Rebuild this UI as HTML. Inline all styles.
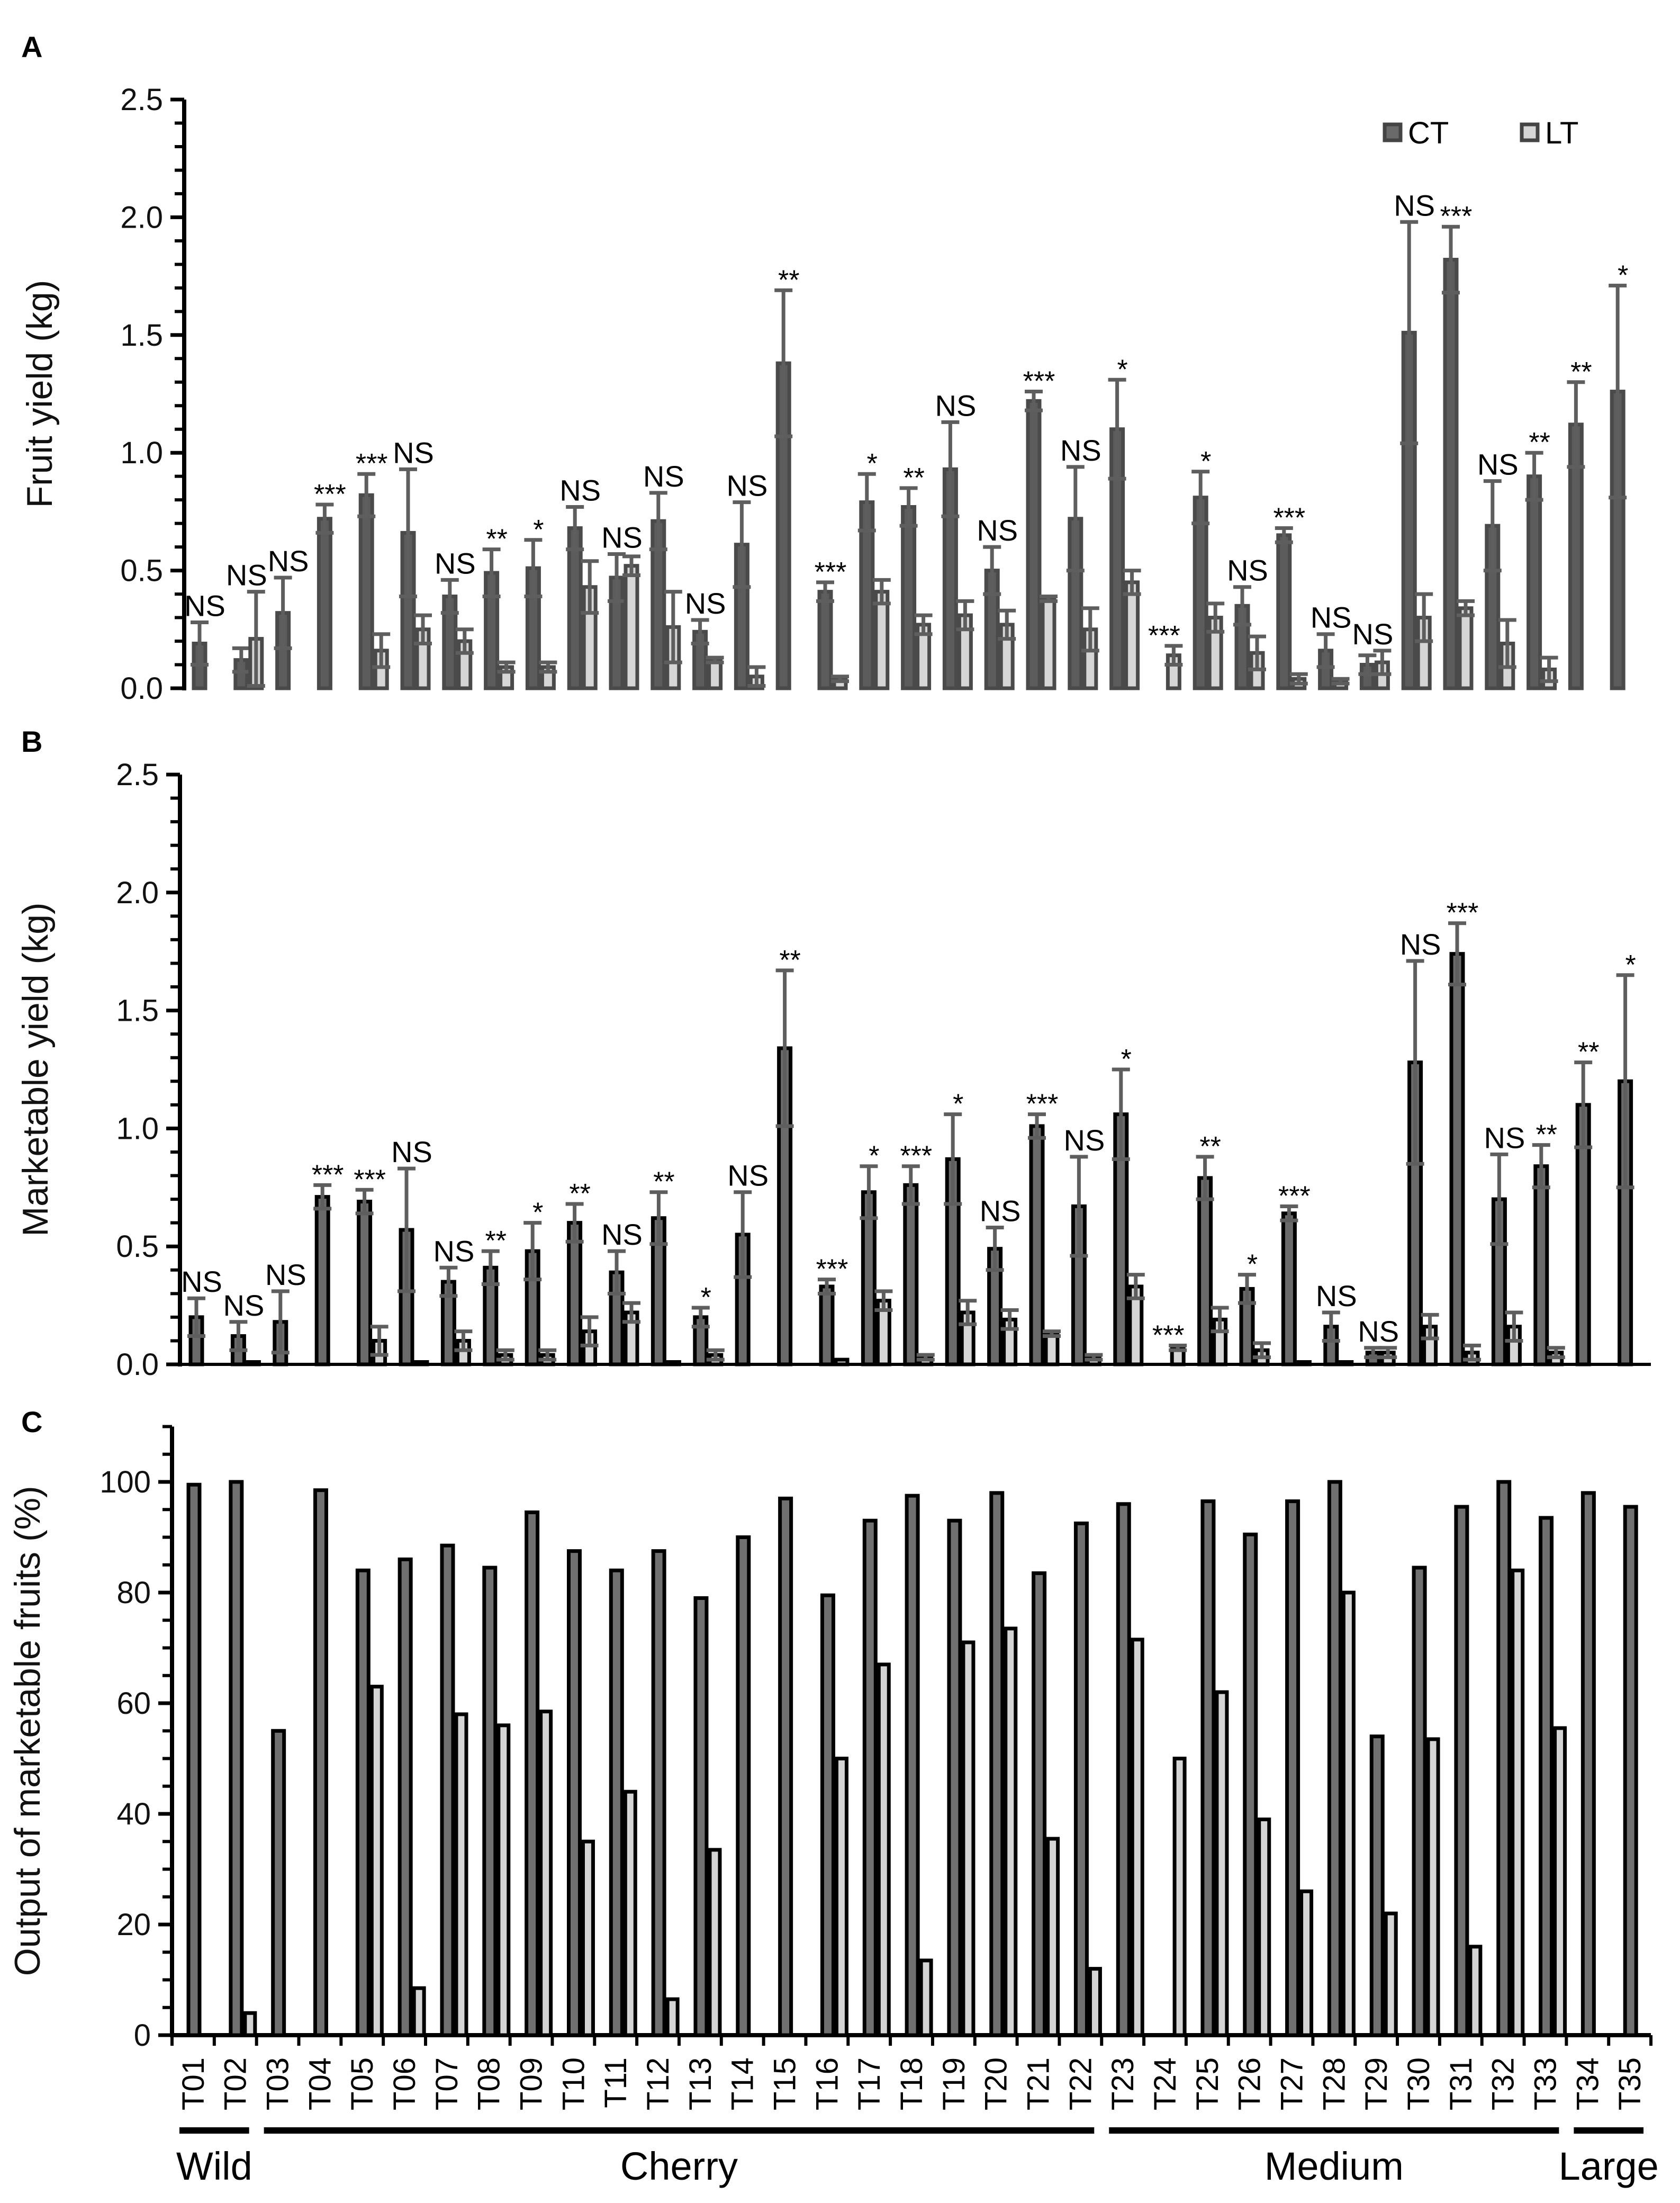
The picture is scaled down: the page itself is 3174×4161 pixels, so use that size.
<!DOCTYPE html>
<html><head><meta charset="utf-8"><style>
html,body{margin:0;padding:0;background:#fff;}
svg{display:block;font-family:"Liberation Sans",Arial,sans-serif;}
</style></head><body>
<svg id="chart" width="3174" height="4161" viewBox="0 0 3174 4161" xmlns="http://www.w3.org/2000/svg">
<rect width="3174" height="4161" fill="#fff"/>
</svg>
<script>
const categories = ["T01","T02","T03","T04","T05","T06","T07","T08","T09","T10","T11","T12","T13","T14","T15","T16","T17","T18","T19","T20","T21","T22","T23","T24","T25","T26","T27","T28","T29","T30","T31","T32","T33","T34","T35"];
const fruitCT = [0.19,0.12,0.32,0.72,0.82,0.66,0.39,0.49,0.51,0.68,0.47,0.71,0.24,0.61,1.38,0.41,0.79,0.77,0.93,0.50,1.22,0.72,1.10,0,0.81,0.35,0.65,0.16,0.10,1.51,1.82,0.69,0.90,1.12,1.26];
const fruitCTsd = [0.09,0.05,0.15,0.06,0.09,0.27,0.07,0.10,0.12,0.09,0.10,0.12,0.05,0.18,0.31,0.04,0.12,0.08,0.20,0.10,0.04,0.22,0.21,0,0.11,0.08,0.03,0.07,0.04,0.47,0.14,0.19,0.10,0.18,0.45];
const fruitLT = [0,0.21,0,0,0.16,0.25,0.20,0.09,0.09,0.43,0.52,0.26,0.12,0.05,0,0.04,0.41,0.27,0.31,0.27,0.38,0.25,0.45,0.14,0.30,0.15,0.04,0.03,0.11,0.30,0.34,0.19,0.08,0,0];
const fruitLTsd = [0,0.20,0,0,0.07,0.06,0.05,0.02,0.02,0.11,0.04,0.15,0.01,0.04,0,0.01,0.05,0.04,0.06,0.06,0.01,0.09,0.05,0.04,0.06,0.07,0.02,0.01,0.05,0.10,0.03,0.10,0.05,0,0];
const fruitSig = ["NS","NS","NS","***","***","NS","NS","**","*","NS","NS","NS","NS","NS","**","***","*","**","NS","NS","***","NS","*","***","*","NS","***","NS","NS","NS","***","NS","**","**","*"];
const mktCT = [0.20,0.12,0.18,0.71,0.69,0.57,0.35,0.41,0.48,0.60,0.39,0.62,0.20,0.55,1.34,0.33,0.73,0.76,0.87,0.49,1.01,0.67,1.06,0,0.79,0.32,0.64,0.16,0.05,1.28,1.74,0.70,0.84,1.10,1.20];
const mktCTsd = [0.08,0.06,0.13,0.05,0.05,0.26,0.06,0.07,0.12,0.08,0.09,0.11,0.04,0.18,0.33,0.03,0.11,0.08,0.19,0.09,0.05,0.21,0.19,0,0.09,0.06,0.03,0.06,0.02,0.43,0.13,0.19,0.09,0.18,0.45];
const mktLT = [0,0.01,0,0,0.10,0.01,0.10,0.04,0.04,0.14,0.22,0.01,0.04,0,0,0.02,0.27,0.03,0.22,0.19,0.13,0.03,0.33,0.07,0.19,0.06,0.01,0.01,0.05,0.16,0.05,0.16,0.05,0,0];
const mktLTsd = [0,0,0,0,0.06,0,0.04,0.02,0.02,0.06,0.04,0,0.02,0,0,0,0.04,0.01,0.05,0.04,0.01,0.01,0.05,0.01,0.05,0.03,0,0,0.02,0.05,0.03,0.06,0.02,0,0];
const mktSig = ["NS","NS","NS","***","***","NS","NS","**","*","**","NS","**","*","NS","**","***","*","***","*","NS","***","NS","*","***","**","*","***","NS","NS","NS","***","NS","**","**","*"];
const pctCT = [99.5,100,55,98.5,84,86,88.5,84.5,94.5,87.5,84,87.5,79,90,97,79.5,93,97.5,93,98,83.5,92.5,96,0,96.5,90.5,96.5,100,54,84.5,95.5,100,93.5,98,95.5];
const pctLT = [0,4,0,0,63,8.5,58,56,58.5,35,44,6.5,33.5,0,0,50,67,13.5,71,73.5,35.5,12,71.5,50,62,39,26,80,22,53.5,16,84,55.5,0,0];
const kgTicks = ["0.0","0.5","1.0","1.5","2.0","2.5"];
const pctTicks = ["0","20","40","60","80","100"];
const groups = ["Wild","Cherry","Medium","Large"];
const groupFirst = [0,2,22,33];
const groupLast = [1,21,32,34];

const NS = "http://www.w3.org/2000/svg";
const svg = document.getElementById("chart");
function el(tag, attrs, parent){
  const e = document.createElementNS(NS, tag);
  for (const k in attrs) e.setAttribute(k, attrs[k]);
  (parent||svg).appendChild(e);
  return e;
}

function panelLetter(t, x, y){
  const e = el("text",{x:x,y:y,"font-size":56,"font-weight":"bold",fill:"#000"});
  e.textContent = t;
  
  
}

function yAxis(ax, y0, yTop, vmax, ticks, tickStep, minorStep, title, key){
  const g = el("g",{});
  
  
  const sy = v => y0 - (v / vmax) * (y0 - yTop);
  el("line",{x1:ax,y1:yTop,x2:ax,y2:y0+4,stroke:"#000","stroke-width":8},g);
  const nMinor = Math.round(vmax / minorStep);
  for (let i=0;i<=nMinor;i++){
    const y = sy(i*minorStep);
    el("line",{x1:ax-18,y1:y,x2:ax,y2:y,stroke:"#000","stroke-width":6},g);
  }
  ticks.forEach((t,i)=>{
    const y = sy(i*tickStep);
    el("line",{x1:ax-26,y1:y,x2:ax,y2:y,stroke:"#000","stroke-width":7},g);
    const tx = el("text",{x:ax-40,y:y+20,"font-size":58,"text-anchor":"end",fill:"#111"},g);
    tx.textContent = t;
    
    
  });
  const midY = (y0 + yTop)/2;
  const tt = el("text",{x:0,y:0,"font-size":68,"text-anchor":"middle",fill:"#111",transform:`translate(${ax-250},${midY}) rotate(-90)`},g);
  tt.textContent = title;
  
  
  return sy;
}

function errPanel(key, ax, y0, yTop, catStart, catW, ctOff, barW, ct, ctsd, lt, ltsd, sig, ctStroke, ctFill, title, drawBase){
  const sy = yAxis(ax, y0, yTop, 2.5, kgTicks, 0.5, 0.1, title, key);
  if (drawBase){
    const b = el("line",{x1:ax,y1:y0,x2:catStart+categories.length*catW,y2:y0,stroke:"#000","stroke-width":6});
    
    
  }
  const xs = i => catStart + i*catW;
  categories.forEach((c,i)=>{
    const xc = xs(i) + ctOff;
    const xl = xc + barW;
    const series = [[ct[i],ctsd[i],xc,ctFill,'ct'],[lt[i],ltsd[i],xl,"#d6d6d6",'lt']];
    series.forEach(s=>{
      const [v,sd,x,fill,nm] = s;
      const r = el("rect",{x:x+3,y:sy(v),width:barW-6,height:Math.max(0,y0-sy(v)),fill:fill,stroke:ctStroke,"stroke-width":7});
      
      
      if (sd > 0){
        const cx = x + barW/2;
        const e = el("path",{d:`M${cx},${sy(v-sd)}V${sy(v+sd)}M${cx-17},${sy(v+sd)}H${cx+17}M${cx-17},${sy(v-sd)}H${cx+17}`,stroke:"#5e5e5e","stroke-width":7,fill:"none"});
        
        
      }
    });
    const top = Math.max(ct[i]+ctsd[i], lt[i]+ltsd[i]);
    const isStar = sig[i] !== "NS";
    const t = el("text",{x:xs(i)+ctOff+barW-4,y:sy(top)-(isStar?2:12),"font-size":isStar?52:56,"text-anchor":"middle",fill:"#000"});
    t.textContent = sig[i];
    
    
  });
}

panelLetter("A", 40, 108);
errPanel("fruit", 348, 1300, 188, 348, 78.8, 15, 28, fruitCT, fruitCTsd, fruitLT, fruitLTsd, fruitSig, "#4a4a4a", "#5c5c5c", "Fruit yield (kg)", false);

// legend
[["CT","#6a6a6a",2612],["LT","#d6d6d6",2871]].forEach(l=>{
  const r = el("rect",{x:l[2]+4,y:235,width:30,height:30,fill:l[1],stroke:"#444","stroke-width":7});
  
  
  const t = el("text",{x:l[2]+48,y:271,"font-size":58,fill:"#000"});
  t.textContent = l[0];
  
  
});

panelLetter("B", 40, 1420);
errPanel("marketable", 340, 2577, 1463, 340, 79.4, 17, 28, mktCT, mktCTsd, mktLT, mktLTsd, mktSig, "#000", "#6a6a6a", "Marketable yield (kg)", true);

// Panel C
panelLetter("C", 40, 2705);
(function(){
  const ax = 325, y0 = 3844, vmax = 110, yTop = 3844 - 110*10.45;
  const sy = yAxis(ax, y0, yTop, vmax, pctTicks, 20, 5, "Output of marketable fruits (%)", "pct");
  const catW = 79.83;
  const xs = i => ax + i*catW;
  const base = el("line",{x1:ax-4,y1:y0,x2:xs(categories.length),y2:y0,stroke:"#000","stroke-width":8});
  
  
  for (let i=0;i<=categories.length;i++){
    el("line",{x1:xs(i),y1:y0,x2:xs(i),y2:y0+20,stroke:"#000","stroke-width":6});
  }
  categories.forEach((c,i)=>{
    const v1 = pctCT[i], v2 = pctLT[i];
    if (v1 > 0){
      const r = el("rect",{x:xs(i)+28+3,y:sy(v1),width:21,height:y0-sy(v1),fill:"#707070",stroke:"#000","stroke-width":7});
      
      
    }
    if (v2 > 0){
      const r = el("rect",{x:xs(i)+55+3,y:sy(v2),width:19,height:y0-sy(v2),fill:"#d4d4d4",stroke:"#000","stroke-width":7});
      
      
    }
    const xc = xs(i) + catW/2;
    const t = el("text",{x:0,y:0,"font-size":58,"text-anchor":"end",fill:"#000",transform:`translate(${xc+20},${3886}) rotate(-90)`});
    t.textContent = c;
    
    
  });
  groups.forEach((gname,gi)=>{
    const x1 = xs(groupFirst[gi]) + 14, x2 = xs(groupLast[gi]+1) - 14;
    const ln = el("line",{x1:x1,y1:4024,x2:x2,y2:4024,stroke:"#000","stroke-width":12});
    
    
    const t = el("text",{x:(x1+x2)/2,y:4117,"font-size":74,"text-anchor":"middle",fill:"#000"});
    t.textContent = gname;
    
    
  });
})();
</script>
</body></html>
